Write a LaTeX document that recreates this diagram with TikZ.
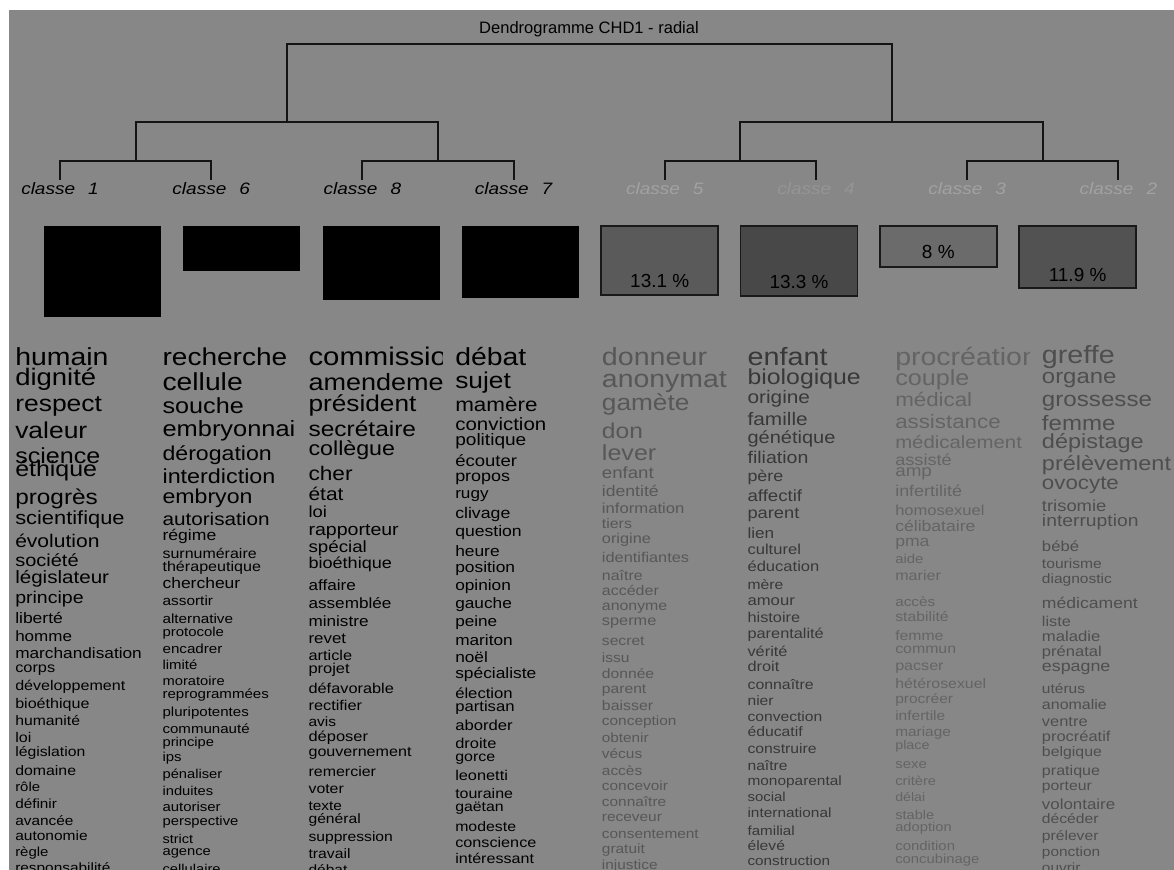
\documentclass[tikz,border=0pt]{standalone}
\usepackage{fontspec}
\setmainfont{Liberation Sans}
\newfontfamily\cloud{Liberation Sans}[FakeStretch=1.15]
\usepackage{tikz}

\definecolor{bggray}{HTML}{878787}
\definecolor{cfive}{HTML}{575757}
\definecolor{cfour}{HTML}{383838}
\definecolor{cthree}{HTML}{646464}
\definecolor{ctwo}{HTML}{4E4E4E}
\definecolor{faint}{HTML}{A2A2A2}
\definecolor{boxfive}{HTML}{5A5A5A}
\definecolor{boxfour}{HTML}{484848}
\definecolor{boxthree}{HTML}{6B6B6B}
\definecolor{boxtwo}{HTML}{525252}

\begin{document}
\begin{tikzpicture}[x=0.75pt, y=-0.75pt,
    link/.style={line width=1.5pt, color=black!92},
    clabel/.style={anchor=base, inner sep=0pt, font=\cloud\itshape\fontsize{12.4pt}{14pt}\selectfont},
    sizebar/.style={draw=black!90, line width=1.2pt},
    pct/.style={anchor=base, inner sep=0pt, text=black, font=\fontsize{14.2pt}{16pt}\selectfont},
    word/.style={anchor=base west, inner sep=0pt}]

  % Page and gray panel
  \useasboundingbox (0,0) rectangle (1174,870);
  \fill[white] (0,0) rectangle (1174,870);
  \fill[bggray] (9,10) rectangle (1174,870);

  % Title
  \node[anchor=base, inner sep=0pt, font=\fontsize{12.4pt}{14pt}\selectfont] (title) at (589,33.3) {Dendrogramme CHD1 - radial};

  % Leaves and joins of the tree
  \coordinate (l1) at (60,180);
  \coordinate (l6) at (211.2,180);
  \coordinate (l8) at (362.4,180);
  \coordinate (l7) at (513.6,180);
  \coordinate (l5) at (664.8,180);
  \coordinate (l4) at (816,180);
  \coordinate (l3) at (967.2,180);
  \coordinate (l2) at (1118.4,180);
  \coordinate (j16) at (135.6,161);
  \coordinate (j87) at (438,161);
  \coordinate (j54) at (740.4,161);
  \coordinate (j32) at (1042.8,161);
  \coordinate (jl) at (286.8,122);
  \coordinate (jr) at (891.6,122);
  \coordinate (root) at (589.2,44);

  % Draw the dendrogram
  \draw[link] (l1) |- (j16) -| (l6);
  \draw[link] (l8) |- (j87) -| (l7);
  \draw[link] (l5) |- (j54) -| (l4);
  \draw[link] (l3) |- (j32) -| (l2);
  \draw[link] (j16) |- (jl) -| (j87);
  \draw[link] (j54) |- (jr) -| (j32);
  \draw[link] (jl) |- (root) -| (jr);

  % Class labels
  \begin{scope}
    \clip (0,150) rectangle (1174,193.5);
    \node[clabel, text=black] (c1) at (60,195) {classe\hspace{9.75pt}1};
    \node[clabel, text=black] (c6) at (211.2,195) {classe\hspace{9.75pt}6};
    \node[clabel, text=black] (c8) at (362.4,195) {classe\hspace{9.75pt}8};
    \node[clabel, text=black] (c7) at (513.6,195) {classe\hspace{9.75pt}7};
    \node[clabel, text=faint] (c5) at (664.8,195) {classe\hspace{9.75pt}5};
    \node[clabel, text=faint!92!black] (c4) at (816,195) {classe\hspace{9.75pt}4};
    \node[clabel, text=faint] (c3) at (967.2,195) {classe\hspace{9.75pt}3};
    \node[clabel, text=faint] (c2) at (1118.4,195) {classe\hspace{9.75pt}2};
  \end{scope}

  % Size bars
  \fill[black] (44,226) rectangle (161,317);
  \fill[black] (183.3,226) rectangle (300.3,271);
  \fill[black] (322.6,226) rectangle (439.6,300);
  \fill[black] (461.9,226) rectangle (578.9,298);
  \filldraw[sizebar, fill=boxfive] (601.2,226) rectangle (718.2,295);
  \filldraw[sizebar, fill=boxfour] (740.5,226) rectangle (857.5,296);
  \filldraw[sizebar, fill=boxthree] (879.8,226) rectangle (996.8,267);
  \filldraw[sizebar, fill=boxtwo] (1019.1,226) rectangle (1136.1,288);
  \node[pct] (p5) at (659.7,287) {13.1 \%};
  \node[pct] (p4) at (799,288.3) {13.3 \%};
  \node[pct] (p3) at (938.3,258.5) {8 \%};
  \node[pct] (p2) at (1077.6,281.7) {11.9 \%};

  % Words of classe 1
  \begin{scope}
    \clip (9,330) rectangle (149,870);
    \foreach \txt/\sz/\yy [count=\i] in {humain/24.7/365, dignité/23.9/385, respect/23/411.7, valeur/23/438, science/21.8/463, éthique/21.7/476, progrès/21.2/504, scientifique/19/524, évolution/18.3/547.7, société/17.4/566, législateur/17.9/583, principe/17/603, liberté/15.2/623, homme/14.8/641.7, marchandisation/15/658, corps/14.2/672.7, développement/14/690, bioéthique/14/708, humanité/13.7/725, loi/14/742.7, législation/13.7/756.7, domaine/13.8/775, rôle/13/791.7, définir/13.3/808, avancée/13.4/825, autonomie/13.5/840, règle/13/856.7, responsabilité/13.4/872}
    {
      \pgfmathsetlengthmacro\fsz{0.75*\sz}
      \node[word, text=black, font=\cloud\fontsize{\fsz}{\fsz}\selectfont] (w1-\i) at (15,\yy) {\txt};
    }
  \end{scope}

  % Words of classe 6
  \begin{scope}
    \clip (150,330) rectangle (296,870);
    \foreach \txt/\sz/\yy [count=\i] in {recherche/24.4/365, cellule/24.6/390, souche/21.9/413, embryonnaire/22.1/436.7, dérogation/20.1/460, interdiction/20.3/483.3, embryon/20.1/503.3, autorisation/18/525, régime/15.3/540, surnuméraire/13.9/558.3, thérapeutique/14/571.7, chercheur/15.2/588.3, assortir/13.4/605, alternative/13.3/623.3, protocole/13/636.7, encadrer/13.2/653.3, limité/13/669.3, moratoire/12.8/685, reprogrammées/13.1/698.3, pluripotentes/13.1/716.7, communauté/13.1/733.3, principe/12.8/746.7, ips/13/761.7, pénaliser/12.8/778.3, induites/12.8/795, autoriser/13/811.7, perspective/12.9/825, strict/12.6/843.3, agence/12.8/855, cellulaire/12.8/873}
    {
      \pgfmathsetlengthmacro\fsz{0.75*\sz}
      \node[word, text=black, font=\cloud\fontsize{\fsz}{\fsz}\selectfont] (w6-\i) at (162.3,\yy) {\txt};
    }
  \end{scope}

  % Words of classe 8
  \begin{scope}
    \clip (297,330) rectangle (442,870);
    \foreach \txt/\sz/\yy [count=\i] in {commission/25.5/365, amendement/23.5/390, président/22.8/411.7, secrétaire/21.3/436, collègue/20.2/455, cher/19.7/480, état/18.2/500, loi/16/517.3, rapporteur/17/535, spécial/16.3/552.7, bioéthique/15.7/568.3, affaire/14.9/590, assemblée/14.9/608.3, ministre/14.9/626, revet/14.7/643.3, article/14.2/660.7, projet/14.3/673.3, défavorable/14.2/693.3, rectifier/14.2/710, avis/13.5/726.7, déposer/14.3/741.7, gouvernement/14/756.7, remercier/13.9/776.7, voter/13.8/793.3, texte/13.4/810, général/13.6/823.3, suppression/13.6/841.7, travail/13.7/858.3, débat/13.5/874}
    {
      \pgfmathsetlengthmacro\fsz{0.75*\sz}
      \node[word, text=black, font=\cloud\fontsize{\fsz}{\fsz}\selectfont] (w8-\i) at (308.3,\yy) {\txt};
    }
  \end{scope}

  % Words of classe 7
  \begin{scope}
    \clip (443,330) rectangle (589,870);
    \foreach \txt/\sz/\yy [count=\i] in {débat/24.7/365, sujet/22.9/388.3, mamère/19.5/411.7, conviction/17.8/430, politique/16.6/445, écouter/16.1/466.7, propos/15.6/481.7, rugy/14.9/498.3, clivage/15.4/518.3, question/15.3/536.7, heure/15.1/556.7, position/15.1/572.7, opinion/15/590, gauche/15/608.3, peine/14.9/626.7, mariton/15/645, noël/15/662.7, spécialiste/15.1/678.3, élection/14.5/698.3, partisan/14.5/711.7, aborder/14.5/730, droite/14.3/748.3, gorce/13.9/761.7, leonetti/14.2/780.7, touraine/13.9/798.3, gaëtan/13.8/811.7, modeste/13.8/831.7, conscience/14.1/847.3, intéressant/14/863.3}
    {
      \pgfmathsetlengthmacro\fsz{0.75*\sz}
      \node[word, text=black, font=\cloud\fontsize{\fsz}{\fsz}\selectfont] (w7-\i) at (455,\yy) {\txt};
    }
  \end{scope}

  % Words of classe 5
  \begin{scope}
    \clip (590,330) rectangle (736,870);
    \foreach \txt/\sz/\yy [count=\i] in {donneur/24.9/365, anonymat/24.7/387.3, gamète/22.8/410, don/21.4/438.3, lever/21.8/460.7, enfant/16.2/478.3, identité/15.3/496, information/14.5/513.3, tiers/13.8/528.3, origine/14.2/543.3, identifiantes/14.2/562.7, naître/13.9/580, accéder/13.9/595, anonyme/13.8/610, sperme/14.2/625, secret/13.6/645, issu/13.5/662.7, donnée/13.6/678.3, parent/13.6/693.3, baisser/13.8/710, conception/13.4/725, obtenir/13.3/742.7, vécus/13.4/758.3, accès/13.4/775, concevoir/13.4/790, connaître/13.4/806, receveur/13.4/821.7, consentement/13.4/838.3, gratuit/13.4/853.3, injustice/13.4/869}
    {
      \pgfmathsetlengthmacro\fsz{0.75*\sz}
      \node[word, text=cfive, font=\cloud\fontsize{\fsz}{\fsz}\selectfont] (w5-\i) at (601.7,\yy) {\txt};
    }
  \end{scope}

  % Words of classe 4
  \begin{scope}
    \clip (737,330) rectangle (882,870);
    \foreach \txt/\sz/\yy [count=\i] in {enfant/25/365, biologique/21.6/384, origine/18.1/403.3, famille/18.1/425, génétique/17.4/443.3, filiation/17/463.3, père/15.5/481.7, affectif/16.2/501.7, parent/15.9/518.3, lien/14.9/538.3, culturel/14.4/554, éducation/14.4/571.7, mère/13.6/589.3, amour/14.5/605, histoire/14.2/622.7, parentalité/14.2/638.3, vérité/14.2/656, droit/14.2/671.7, connaître/13.8/689.3, nier/13.6/705, convection/13.6/721.7, éducatif/13.7/736, construire/13.7/753.3, naître/13.6/770, monoparental/13.4/785, social/13/801.7, international/13.4/817.3, familial/13.2/835, élevé/13.6/850, construction/13.3/865}
    {
      \pgfmathsetlengthmacro\fsz{0.75*\sz}
      \node[word, text=cfour, font=\cloud\fontsize{\fsz}{\fsz}\selectfont] (w4-\i) at (747.3,\yy) {\txt};
    }
  \end{scope}

  % Words of classe 3
  \begin{scope}
    \clip (883,330) rectangle (1029,870);
    \foreach \txt/\sz/\yy [count=\i] in {procréation/24.8/365, couple/21.9/385, médical/19.4/406.7, assistance/19.4/428.3, médicalement/17.7/448.3, assisté/15.8/465, amp/16.4/476.7, infertilité/15.6/496.7, homosexuel/14.4/515, célibataire/15.3/531.7, pma/15.3/546.7, aide/13/563.3, marier/14/580, accès/13.3/606.7, stabilité/13.7/621.7, femme/13.7/640, commun/13.8/653.3, pacser/14/670, hétérosexuel/13.8/688.3, procréer/13.5/703.3, infertile/13.5/720, mariage/13.4/736.7, place/12.5/749.3, sexe/13/768.3, critère/12.8/785, délai/12.3/801.7, stable/12.7/819.3, adoption/12.8/831.7, condition/13/850, concubinage/12.9/863.3}
    {
      \pgfmathsetlengthmacro\fsz{0.75*\sz}
      \node[word, text=cthree, font=\cloud\fontsize{\fsz}{\fsz}\selectfont] (w3-\i) at (895,\yy) {\txt};
    }
  \end{scope}

  % Words of classe 2
  \begin{scope}
    \clip (1030,330) rectangle (1174,870);
    \foreach \txt/\sz/\yy [count=\i] in {greffe/24.9/363.3, organe/20.8/383.3, grossesse/21/406, femme/20.9/430, dépistage/20.4/448.3, prélèvement/20.4/470, ovocyte/19.4/489.3, trisomie/16/511.7, interruption/16.8/526.7, bébé/14.5/551.7, tourisme/13.6/568.3, diagnostic/13.5/583.3, médicament/15.3/608.3, liste/14.2/626, maladie/14.5/641.7, prénatal/14.4/656.7, espagne/15.5/671.7, utérus/13.5/693.3, anomalie/13.9/709.3, ventre/14.3/726.7, procréatif/14.3/741.7, belgique/13.8/756.7, pratique/14/775, porteur/13.7/790, volontaire/14.7/809.3, décéder/13.6/823.3, prélever/13.6/840, ponction/13.4/856.7, ouvrir/13.4/872}
    {
      \pgfmathsetlengthmacro\fsz{0.75*\sz}
      \node[word, text=ctwo, font=\cloud\fontsize{\fsz}{\fsz}\selectfont] (w2-\i) at (1041.7,\yy) {\txt};
    }
  \end{scope}
\end{tikzpicture}
\end{document}
